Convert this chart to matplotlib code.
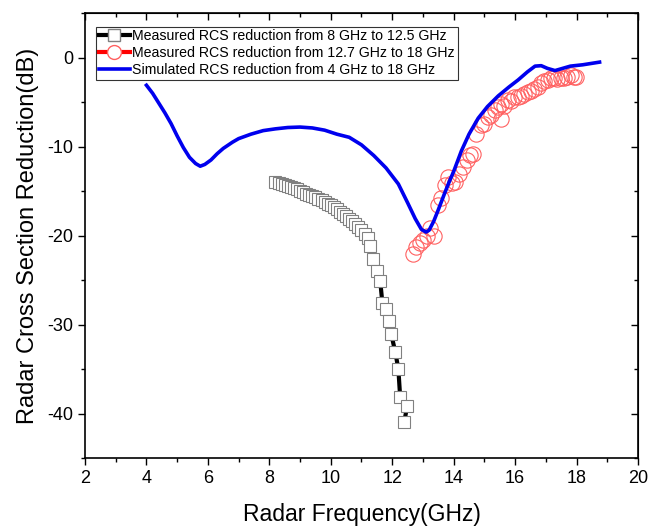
import numpy as np
import matplotlib
matplotlib.use("Agg")
import matplotlib.pyplot as plt
from matplotlib.ticker import MultipleLocator
from matplotlib.lines import Line2D

plt.rcParams['font.family'] = ['Liberation Sans', 'DejaVu Sans']
plt.rcParams['axes.unicode_minus'] = False

# Measured RCS reduction, 8 - 12.5 GHz
meas1_x = [8.2, 8.3, 8.4, 8.5, 8.6, 8.7, 8.8, 8.9, 9.0, 9.1, 9.2, 9.3, 9.4,
           9.5, 9.6, 9.7, 9.8, 9.9, 10.0, 10.1, 10.2, 10.3, 10.4, 10.5, 10.6,
           10.7, 10.8, 10.9, 11.0, 11.1, 11.2, 11.28, 11.39, 11.49, 11.61,
           11.68, 11.81, 11.91, 11.97, 12.10, 12.20, 12.26, 12.49, 12.39]
meas1_y = [-14.0, -14.1, -14.2, -14.3, -14.4, -14.5, -14.7, -14.8, -15.0,
           -15.1, -15.3, -15.4, -15.6, -15.7, -15.9, -16.0, -16.2, -16.4,
           -16.6, -16.8, -17.0, -17.3, -17.6, -17.8, -18.1, -18.4, -18.7,
           -19.0, -19.4, -19.8, -20.3, -21.2, -22.6, -24.0, -25.1, -27.6,
           -28.3, -29.6, -31.1, -33.1, -35.0, -38.2, -39.1, -41.0]

# Measured RCS reduction, 12.7 - 18 GHz
meas2_x = [12.68, 12.78, 12.90, 13.01, 13.12, 13.24, 13.36, 13.48, 13.60,
           13.72, 13.82, 13.94, 14.06, 14.18, 14.30, 14.42, 14.54, 14.62,
           14.73, 14.89, 15.00, 15.11, 15.22, 15.33, 15.44, 15.54, 15.54,
           15.65, 15.76, 15.87, 15.98, 16.08, 16.19, 16.30, 16.41, 16.51,
           16.62, 16.73, 16.84, 16.95, 17.06, 17.16, 17.27, 17.38, 17.48,
           17.59, 17.70, 17.81, 17.92, 17.97]
meas2_y = [-22.1, -21.3, -20.8, -20.5, -20.0, -19.2, -20.1, -16.6, -15.8,
           -14.3, -13.4, -14.1, -14.0, -13.1, -12.3, -11.5, -10.9, -10.8,
           -8.6, -7.6, -7.4, -6.7, -6.4, -5.9, -5.6, -5.2, -6.9,
           -5.4, -4.8, -4.9, -4.4, -4.4, -4.3, -4.1, -3.9, -3.8,
           -3.5, -3.3, -2.9, -2.6, -2.5, -2.3, -2.3, -2.4, -2.3,
           -2.3, -2.2, -2.0, -2.2, -2.2]

# Simulated RCS reduction, 4 - 18 GHz
sim_x = [4.0, 4.2, 4.4, 4.6, 4.8, 5.0, 5.2, 5.4, 5.6, 5.75, 5.9, 6.1, 6.3,
         6.5, 6.8, 7.0, 7.4, 7.8, 8.2, 8.6, 9.0, 9.4, 9.8, 10.2, 10.6, 11.0,
         11.4, 11.8, 12.2, 12.5, 12.75, 12.95, 13.1, 13.2, 13.35, 13.5, 13.7,
         13.85, 14.0, 14.25, 14.5, 14.8, 15.1, 15.45, 15.8, 16.1, 16.4,
         16.65, 16.85, 17.05, 17.3, 17.55, 17.8, 18.2, 18.75]
sim_y = [-3.1, -4.0, -5.1, -6.2, -7.4, -8.8, -10.1, -11.2, -11.9, -12.2,
         -12.0, -11.5, -10.8, -10.2, -9.5, -9.1, -8.6, -8.2, -8.0, -7.85,
         -7.8, -7.9, -8.15, -8.6, -8.95, -9.8, -11.0, -12.4, -14.2, -16.3,
         -18.1, -19.3, -19.6, -19.4, -18.4, -17.1, -15.3, -14.0, -12.8,
         -10.5, -8.6, -6.8, -5.5, -4.3, -3.3, -2.5, -1.6, -0.95, -0.9,
         -1.2, -1.45, -1.2, -0.95, -0.8, -0.5]

legend_labels = ['Measured RCS reduction from 8 GHz to 12.5 GHz',
                 'Measured RCS reduction from 12.7 GHz to 18 GHz',
                 'Simulated RCS reduction from 4 GHz to 18 GHz']

fig = plt.figure(figsize=(6.49, 5.28), dpi=100)
ax = fig.add_axes([0.131, 0.1326, 0.852, 0.8424])

ax.plot(meas1_x, meas1_y, color='black', lw=3, marker='s', markersize=8.5,
        markerfacecolor='white', markeredgecolor='#808080', markeredgewidth=0.8,
        zorder=3)
ax.plot(meas2_x, meas2_y, linestyle='none', marker='o', markersize=11,
        markerfacecolor='none', markeredgecolor='#ff6060', markeredgewidth=0.8,
        zorder=3)
ax.plot(sim_x, sim_y, color='#0000ee', lw=2.6, zorder=4)

ax.set_xlim(2, 20)
ax.set_ylim(-45, 5)
ax.xaxis.set_major_locator(MultipleLocator(2))
ax.xaxis.set_minor_locator(MultipleLocator(1))
ax.yaxis.set_major_locator(MultipleLocator(10))
ax.yaxis.set_minor_locator(MultipleLocator(5))
ax.tick_params(which='both', direction='out', top=False, right=False,
               labelsize=13, width=1)
ax.tick_params(which='major', length=5)
ax.tick_params(which='minor', length=3)

# inward ticks on top and right
top = ax.secondary_xaxis('top')
top.xaxis.set_major_locator(MultipleLocator(2))
top.xaxis.set_minor_locator(MultipleLocator(1))
right = ax.secondary_yaxis('right')
right.yaxis.set_major_locator(MultipleLocator(10))
right.yaxis.set_minor_locator(MultipleLocator(5))
for sec in (top, right):
    sec.tick_params(which='both', direction='in', labeltop=False,
                    labelright=False, width=1)
    sec.tick_params(which='major', length=5)
    sec.tick_params(which='minor', length=3)
for s in ax.spines.values():
    s.set_linewidth(1.2)

ax.set_xlabel('Radar Frequency(GHz)', fontsize=16.5, labelpad=12)
ax.set_ylabel('Radar Cross Section Reduction(dB)', fontsize=17, labelpad=6)

h1 = Line2D([], [], color='black', lw=3, marker='s', markersize=9,
            markerfacecolor='white', markeredgecolor='#808080')
h2 = Line2D([], [], color='red', lw=3, marker='o', markersize=10,
            markerfacecolor='white', markeredgecolor='#ff6060')
h3 = Line2D([], [], color='#0000ee', lw=2.6)
leg = ax.legend([h1, h2, h3], legend_labels,
                loc='upper left', bbox_to_anchor=(0.02, 0.97), fontsize=10.2,
                frameon=True, fancybox=False, borderpad=0.2, labelspacing=0.2,
                handlelength=2.2, handletextpad=0.15, borderaxespad=0)
leg.get_frame().set_edgecolor('black')
leg.get_frame().set_linewidth(0.8)

fig.savefig('out.png', dpi=100)
